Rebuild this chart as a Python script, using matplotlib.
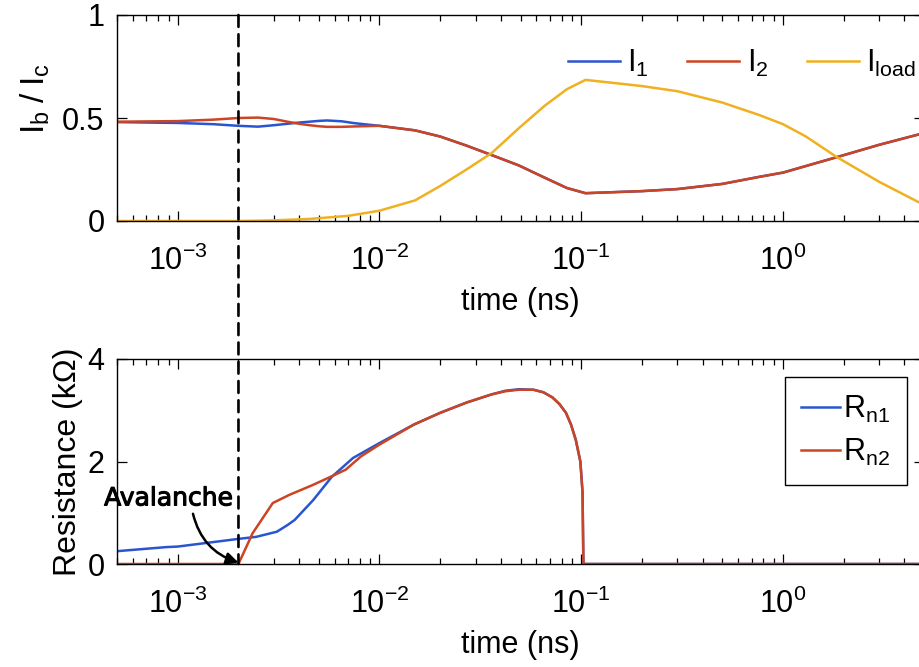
import matplotlib
matplotlib.use("Agg")
import matplotlib.pyplot as plt
import matplotlib.patheffects as pe
from matplotlib.patches import ConnectionPatch
from matplotlib.ticker import LogLocator, NullFormatter

plt.rcParams['font.family'] = ['Liberation Sans', 'DejaVu Sans']
plt.rcParams['mathtext.fontset'] = 'custom'
plt.rcParams['mathtext.rm'] = 'Liberation Sans'
plt.rcParams['mathtext.it'] = 'Liberation Sans'
plt.rcParams['mathtext.default'] = 'regular'
plt.rcParams['axes.unicode_minus'] = False

# ---------------- data ----------------
# top panel: currents (normalised)
t_I1 = [5e-4, 1e-3, 1.5e-3, 2e-3, 2.5e-3, 3e-3, 3.5e-3, 4e-3, 4.5e-3, 5e-3, 5.5e-3,
        6.5e-3, 7.5e-3, 1e-2, 1.5e-2, 2e-2, 2.7e-2, 3.6e-2, 4.9e-2, 6.6e-2, 8.5e-2,
        0.105, 0.2, 0.3, 0.5, 0.76, 1.0, 1.85, 3.0, 5.0]
I1 = [0.480, 0.476, 0.470, 0.462, 0.458, 0.465, 0.472, 0.478, 0.482, 0.486, 0.488,
      0.484, 0.475, 0.462, 0.440, 0.410, 0.366, 0.320, 0.270, 0.210, 0.160,
      0.135, 0.145, 0.155, 0.180, 0.214, 0.235, 0.310, 0.370, 0.427]
I2 = [0.482, 0.485, 0.492, 0.500, 0.502, 0.495, 0.482, 0.472, 0.465, 0.460, 0.457,
      0.457, 0.459, 0.462, 0.440, 0.410, 0.366, 0.320, 0.270, 0.210, 0.160,
      0.135, 0.145, 0.155, 0.180, 0.214, 0.235, 0.310, 0.370, 0.427]
t_load = [5e-4, 1e-3, 2e-3, 3e-3, 4.5e-3, 7e-3, 1e-2, 1.5e-2, 2e-2, 2.7e-2, 3.6e-2,
          4.9e-2, 6.6e-2, 8.5e-2, 0.105, 0.2, 0.3, 0.5, 0.76, 1.0, 1.3, 1.85, 3.0, 5.0]
Iload = [0.0, 0.0, 0.0, 0.003, 0.010, 0.025, 0.050, 0.100, 0.170, 0.250, 0.330,
         0.450, 0.560, 0.640, 0.685, 0.655, 0.630, 0.575, 0.515, 0.470, 0.410, 0.310,
         0.190, 0.078]

# bottom panel: resistances (kOhm)
t_R1 = [5e-4, 8.8e-4, 1e-3, 2e-3, 2.45e-3, 3.1e-3, 3.5e-3, 3.8e-3, 4.7e-3, 5.8e-3,
        7.4e-3, 1e-2, 1.48e-2, 2e-2, 2.7e-2, 3.6e-2, 4.2e-2, 4.9e-2, 5.8e-2, 6.5e-2,
        7.2e-2, 7.8e-2, 8.4e-2, 8.9e-2, 9.4e-2, 9.9e-2, 0.1015, 0.1025, 5.0]
Rn1 = [0.25, 0.33, 0.34, 0.49, 0.53, 0.63, 0.76, 0.86, 1.25, 1.70,
       2.07, 2.36, 2.72, 2.95, 3.15, 3.31, 3.38, 3.41, 3.40, 3.35,
       3.25, 3.12, 2.95, 2.72, 2.42, 2.00, 1.40, 0.0, 0.0]
t_R2 = [5e-4, 2e-3, 2.35e-3, 2.96e-3, 3.58e-3, 4.66e-3, 5.5e-3, 6.8e-3, 8.1e-3, 1e-2,
        1.48e-2, 2e-2, 2.7e-2, 3.6e-2, 4.2e-2, 4.9e-2, 5.8e-2, 6.5e-2, 7.2e-2, 7.8e-2,
        8.4e-2, 8.9e-2, 9.4e-2, 9.9e-2, 0.1015, 0.1025, 5.0]
Rn2 = [0.0, 0.0, 0.60, 1.19, 1.35, 1.54, 1.67, 1.84, 2.10, 2.33,
       2.72, 2.95, 3.15, 3.31, 3.37, 3.40, 3.40, 3.35, 3.25, 3.12,
       2.95, 2.72, 2.42, 2.00, 1.40, 0.0, 0.0]

t_avalanche = 2e-3
xlim = (5e-4, 5.0)

c_blue = '#2a55d0'
c_red = '#cc4422'
c_yel = '#f0b020'

FS = 22

fig = plt.figure(figsize=(9.2, 6.67), dpi=100)
ax1 = fig.add_axes([117/920, 1-221/667, 807/920, 206/667])
ax2 = fig.add_axes([117/920, 1-564/667, 807/920, 205/667])

def style(ax, yticks):
    ax.set_xscale('log')
    ax.set_xlim(*xlim)
    ax.set_yticks(yticks)
    ax.xaxis.set_major_locator(LogLocator(base=10, numticks=20))
    ax.xaxis.set_minor_locator(LogLocator(base=10, subs=range(2, 10), numticks=50))
    ax.xaxis.set_minor_formatter(NullFormatter())
    ax.tick_params(which='both', direction='in', top=True, right=True, labelsize=FS,
                   width=0.9, color='black')
    ax.tick_params(which='major', length=7)
    ax.tick_params(which='minor', length=4)
    ax.tick_params(axis='x', which='major', pad=18)
    ax.tick_params(axis='y', which='major', pad=9)
    for s in ax.spines.values():
        s.set_linewidth(1.0)
        s.set_color('black')
    ax.set_xlabel('time (ns)', fontsize=FS, labelpad=7)

lw = 1.8
ax1.plot(t_I1, I1, color=c_blue, lw=lw, label='$I_1$')
ax1.plot(t_I1, I2, color=c_red, lw=lw, label='$I_2$')
ax1.plot(t_load, Iload, color=c_yel, lw=lw, label='$I_{load}$')
ax1.set_ylim(0, 1)
style(ax1, [0, 0.5, 1])
ax1.set_yticklabels(['0', '0.5', '1'])
ax1.set_ylabel(r'$I_b\;/\;I_c$', fontsize=24)
ax1.yaxis.set_label_coords(-0.081, 0.592)
ax1.legend(loc='upper right', bbox_to_anchor=(0.990, 0.84), ncol=3, frameon=False,
           fontsize=FS, handlelength=1.7, handletextpad=0.25, columnspacing=1.25,
           borderpad=0, borderaxespad=0)

ax2.plot(t_R1, Rn1, color=c_blue, lw=lw, label='$R_{n1}$')
ax2.plot(t_R2, Rn2, color=c_red, lw=lw, label='$R_{n2}$')
ax2.set_ylim(0, 4)
style(ax2, [0, 2, 4])
ax2.set_ylabel('Resistance (k\u03a9)', fontsize=23)
ax2.yaxis.set_label_coords(-0.042, 0.5)
leg2 = ax2.legend(loc='upper right', bbox_to_anchor=(0.979, 0.912), fontsize=FS,
                  handlelength=1.25, handletextpad=0.12, borderpad=0.55,
                  labelspacing=0.4, borderaxespad=0, fancybox=False, framealpha=1,
                  edgecolor='black')
leg2.get_frame().set_linewidth(1.0)

ax2.text(9.0e-4, 1.28, 'Avalanche', fontsize=18, family='DejaVu Sans',
         ha='center', va='center', clip_on=False,
         path_effects=[pe.withStroke(linewidth=0.8, foreground='black')])
ax2.annotate('', xy=(t_avalanche, 0.03), xytext=(1.19e-3, 0.98),
             annotation_clip=False,
             arrowprops=dict(arrowstyle='-|>', color='black', lw=1.8,
                             connectionstyle='arc3,rad=0.28', mutation_scale=18,
                             shrinkA=0, shrinkB=0))

con = ConnectionPatch(xyA=(t_avalanche, 1.0), coordsA=ax1.transData,
                      xyB=(t_avalanche, 0.0), coordsB=ax2.transData,
                      color='black', lw=1.9, linestyle=(0, (4.5, 2.8)), zorder=5)
fig.add_artist(con)

fig.savefig('out.png', dpi=100)
